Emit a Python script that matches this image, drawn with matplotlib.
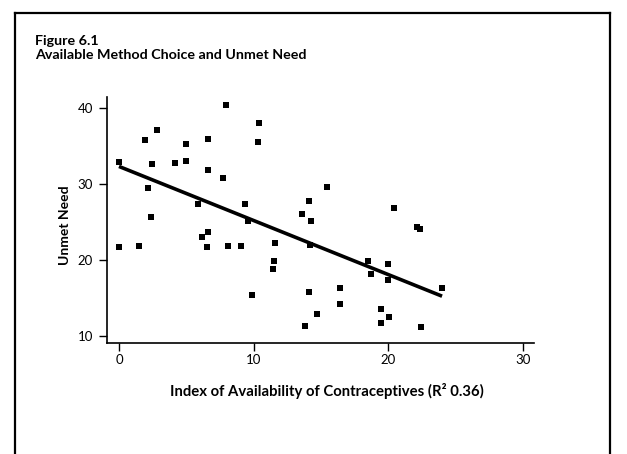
import matplotlib
matplotlib.use("Agg")
import matplotlib.pyplot as plt
from matplotlib.lines import Line2D

# Data
availability_index = [0.0, 1.95, 2.85, 2.47, 2.13, 2.35, 4.19, 5.0, 4.98, 6.63,
                      6.63, 5.89, 7.97, 10.4, 10.35, 7.75, 9.36, 13.57, 9.6, 0.0,
                      1.51, 6.17, 6.63, 6.51, 8.08, 9.04, 11.57, 11.54, 11.42, 9.88,
                      13.8, 15.48, 14.12, 14.26, 14.21, 20.45, 22.16, 22.38, 18.52, 19.96,
                      18.72, 19.96, 24.02, 14.14, 16.44, 16.42, 14.69, 19.44, 20.04, 19.47,
                      22.44]
unmet_need = [32.84, 35.75, 37.04, 32.62, 29.4, 25.57, 32.75, 35.3, 33.07, 35.9,
              31.88, 27.29, 40.34, 38.04, 35.58, 30.77, 27.38, 26.0, 25.17, 21.73,
              21.87, 23.0, 23.62, 21.64, 21.87, 21.83, 22.17, 19.79, 18.78, 15.29,
              11.24, 29.54, 27.78, 25.17, 21.9, 26.85, 24.34, 24.11, 19.79, 19.44,
              18.12, 17.28, 16.22, 15.74, 16.22, 14.15, 12.87, 13.49, 12.43, 11.72,
              11.15]
fit_x = [0.0, 24.0]
fit_y = [32.3, 15.2]
x_ticks = [0, 10, 20, 30]
y_ticks = [10, 20, 30, 40]

W, H = 627, 454
fig = plt.figure(figsize=(W / 100, H / 100), dpi=100)
fig.patch.set_facecolor("white")

fam = ["Lato", "DejaVu Sans"]

ax = fig.add_axes([107 / W, 1 - 343 / H, (534 - 107) / W, (343 - 97) / H])
ax.scatter(availability_index, unmet_need, marker="s", s=13, color="black",
           linewidths=0, zorder=3)
ax.plot(fit_x, fit_y, color="black", lw=2.6, solid_capstyle="butt", zorder=2)

ax.set_xlim(-0.89, 30.83)
ax.set_ylim(9.03, 41.45)
ax.set_xticks(x_ticks)
ax.set_yticks(y_ticks)
for s in ["top", "right"]:
    ax.spines[s].set_visible(False)
for s in ["left", "bottom"]:
    ax.spines[s].set_linewidth(1.2)
ax.tick_params(direction="out", length=5.5, width=1.0, labelsize=9.5,
               colors="black")
ax.tick_params(axis="y", pad=4.5)
ax.tick_params(axis="x", pad=2.5)
for lab in ax.get_xticklabels() + ax.get_yticklabels():
    lab.set_family(fam)
    lab.set_fontweight("normal")

ax.set_xlabel("Index of Availability of Contraceptives (R² 0.36)", family=fam,
              fontweight="bold", fontsize=10.7, labelpad=12)
ax.xaxis.label.set_x(0.514)
ax.set_ylabel("Unmet Need", family=fam, fontweight="bold", fontsize=10,
              labelpad=5)
ax.yaxis.label.set_y(0.48)

fig.text(35 / W, 1 - 48 / H, "Figure 6.1\nAvailable Method Choice and Unmet Need",
         family=fam, fontweight="bold", fontsize=10.3, va="center", ha="left",
         linespacing=1.12)

# page frame
lw = 1.6
fig.add_artist(Line2D([15 / W, 15 / W], [0, 1 - 13 / H], color="black", lw=lw,
                      transform=fig.transFigure))
fig.add_artist(Line2D([15 / W, 610 / W], [1 - 13 / H, 1 - 13 / H], color="black",
                      lw=lw, transform=fig.transFigure))
fig.add_artist(Line2D([610 / W, 610 / W], [0, 1 - 13 / H], color="black", lw=lw,
                      transform=fig.transFigure))

fig.savefig("out.png", dpi=100, facecolor="white")
